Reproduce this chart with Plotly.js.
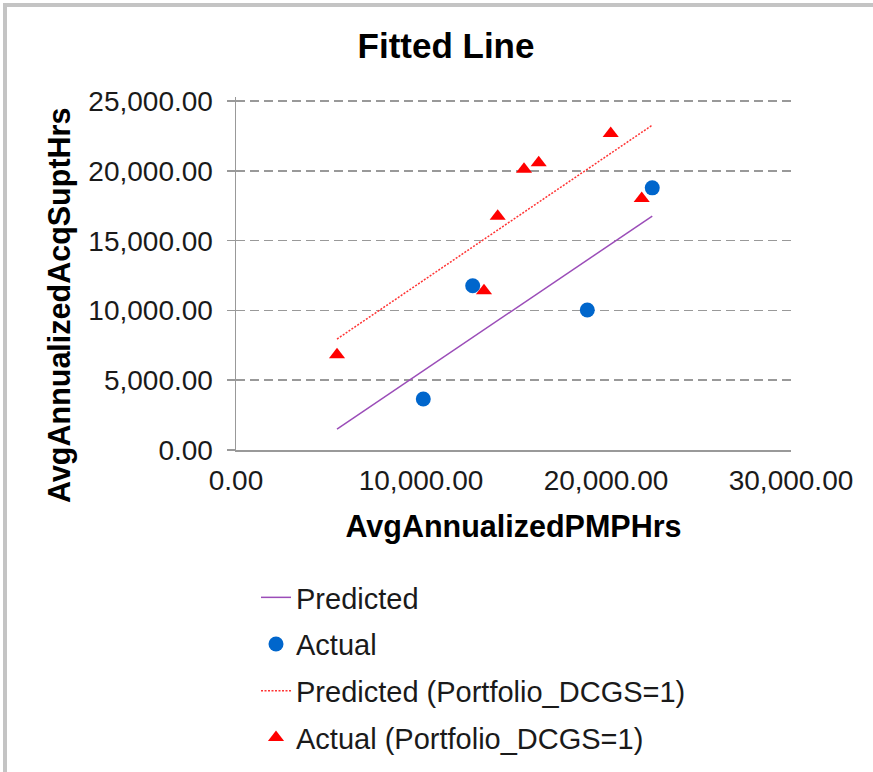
<!DOCTYPE html>
<html>
<head>
<meta charset="utf-8">
<script src="https://cdn.plot.ly/plotly-3.0.1.min.js"></script>
<style>
  html, body { margin: 0; padding: 0; background: #fff; overflow: hidden; }
  #wrap { position: relative; width: 873px; height: 772px; }
  #chart { position: absolute; left: 0; top: 0; width: 873px; height: 772px; }
  #frame { position: absolute; left: 3px; top: 3px; width: 1000px; height: 1000px;
           border-left: 4px solid #c4c4c4; border-top: 4px solid #c4c4c4; pointer-events: none; }
</style>
</head>
<body>
<div id="wrap"><div id="chart"></div><div id="frame"></div></div>
<script>
// Actual (all portfolios)
const actualX = [10124, 12795, 18989, 22500];
const actualY = [3653, 11769, 10029, 18789];
// Actual (Portfolio_DCGS=1)
const dcgsX = [5460, 13405, 14146, 15568, 16362, 20254, 21930];
const dcgsY = [6830, 11410, 16760, 20130, 20580, 22680, 18030];
// Fitted lines
const predX = [5460, 22500];
const predY = [1504, 16762];
const predDcgsX = [5460, 22500];
const predDcgsY = [7951, 23281];

const xTickVals = [0, 10000, 20000, 30000];
const xTickText = ['0.00', '10,000.00', '20,000.00', '30,000.00'];
const yTickVals = [0, 5000, 10000, 15000, 20000, 25000];
const yTickText = ['0.00', '5,000.00', '10,000.00', '15,000.00', '20,000.00', '25,000.00'];

const xTitle = 'AvgAnnualizedPMPHrs';
const yTitle = 'AvgAnnualizedAcqSuptHrs';

const FONT = 'Liberation Sans, Arial, sans-serif';

const traces = [
  { x: predX, y: predY, type: 'scatter', mode: 'lines', name: 'Predicted',
    line: { color: '#9B4DB8', width: 1.5 }, legendgroup: 'a' },
  { x: actualX, y: actualY, type: 'scatter', mode: 'markers', name: 'Actual',
    marker: { color: '#0066CC', size: 15, symbol: 'circle' }, legendgroup: 'b' },
  { x: predDcgsX, y: predDcgsY, type: 'scatter', mode: 'lines', name: 'Predicted (Portfolio_DCGS=1)',
    line: { color: '#FF3333', width: 1.5, dash: '2px,1.5px' }, legendgroup: 'c' },
  { x: dcgsX, y: dcgsY, type: 'scatter', mode: 'markers', name: 'Actual (Portfolio_DCGS=1)',
    marker: { color: '#FF0000', size: 14, symbol: 'triangle-up' }, legendgroup: 'd' }
];

// plot area in pixels: x 236..791, y 97..450
const PL = 236, PW = 555, PB = 450, PH = 353;

const layout = {
  width: 873, height: 772,
  paper_bgcolor: '#ffffff', plot_bgcolor: '#ffffff',
  margin: { l: PL, r: 873 - PL - PW, t: PB - PH, b: 772 - PB, autoexpand: false },
  font: { family: FONT, color: '#1a1a1a', size: 28 },
  title: { text: '<b>Fitted Line</b>', font: { family: FONT, size: 35, color: '#000' },
           x: 446 / 873, xref: 'container', xanchor: 'center',
           y: 1 - 46 / 772, yref: 'container', yanchor: 'middle' },
  xaxis: {
    range: [0, 30000], tickvals: xTickVals, ticktext: xTickText,
    showgrid: false, zeroline: false, showline: true, linecolor: '#999999', linewidth: 1.5,
    ticks: '', ticklabelstandoff: 5, tickfont: { family: FONT, size: 28, color: '#1a1a1a' },
    title: { text: '<b>' + xTitle + '</b>', font: { family: FONT, size: 30.5, color: '#000' }, standoff: 20 },
    automargin: false, fixedrange: true
  },
  yaxis: {
    range: [0, 25300], tickvals: yTickVals, ticktext: yTickText,
    showgrid: true, gridcolor: '#999999', gridwidth: 1.5, griddash: '9px,5px',
    zeroline: false, showline: true, linecolor: '#999999', linewidth: 1.5,
    ticks: 'outside', ticklen: 8, tickcolor: '#999999', tickwidth: 1.5,
    ticklabelstandoff: 8,
    tickfont: { family: FONT, size: 28, color: '#1a1a1a' },
    title: { text: '' },
    automargin: false, fixedrange: true
  },
  annotations: [
    { text: '<b>' + yTitle + '</b>', textangle: -90, showarrow: false,
      xref: 'paper', yref: 'paper',
      x: (59 - PL) / PW, xanchor: 'center',
      y: (PB - 306) / PH, yanchor: 'middle',
      font: { family: FONT, size: 30.5, color: '#000' } }
  ],
  showlegend: true,
  legend: {
    x: (256 - PL) / PW, xanchor: 'left',
    y: (PB - 572) / PH, yanchor: 'top',
    orientation: 'v', traceorder: 'grouped', tracegroupgap: 6,
    font: { family: FONT, size: 29, color: '#1a1a1a' },
    bgcolor: 'rgba(0,0,0,0)', borderwidth: 0
  }
};

Plotly.newPlot('chart', traces, layout, { staticPlot: true, displayModeBar: false });
</script>
</body>
</html>
